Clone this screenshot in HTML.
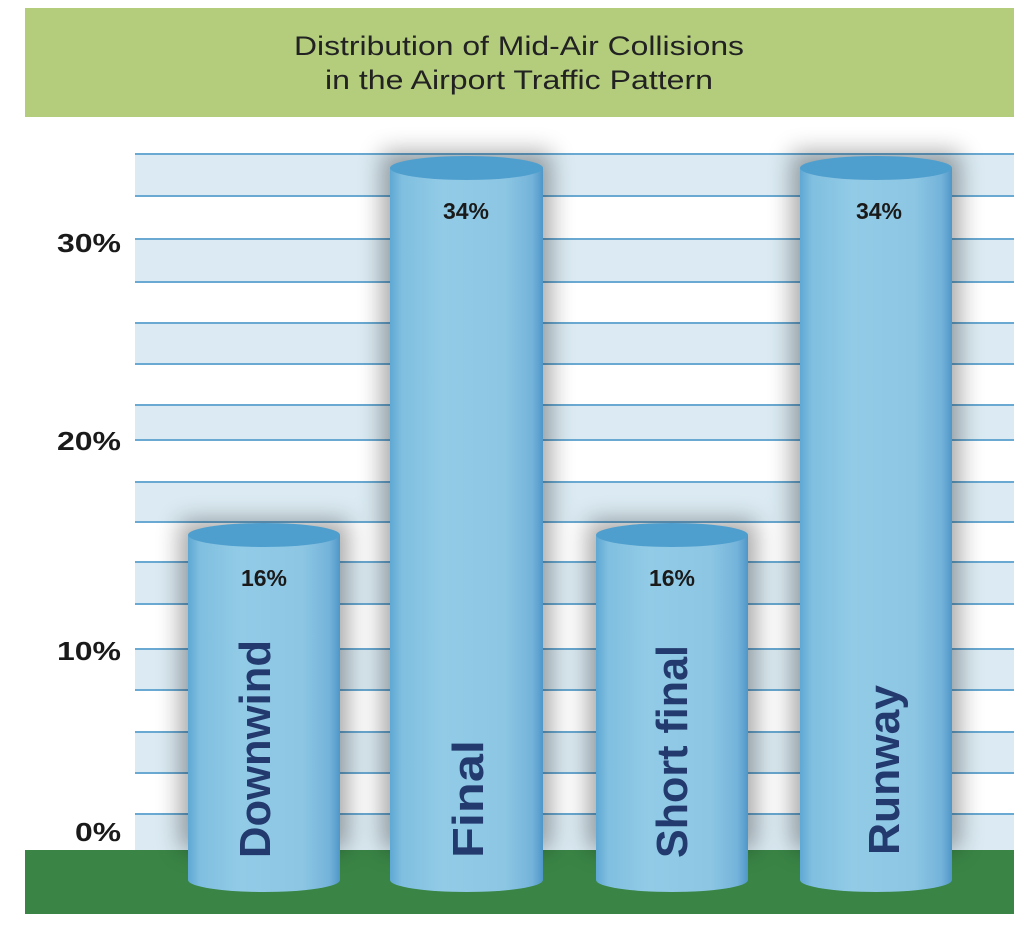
<!DOCTYPE html>
<html><head><style>html,body{margin:0;padding:0;background:#fff}svg{display:block}</style></head><body>
<svg width="1024" height="929" viewBox="0 0 1024 929" xmlns="http://www.w3.org/2000/svg">
<defs>
<linearGradient id="cyl" x1="0" x2="1" y1="0" y2="0">
<stop offset="0" stop-color="#5fa8d4"/><stop offset="0.08" stop-color="#80bfe0"/><stop offset="0.35" stop-color="#92cbe6"/><stop offset="0.75" stop-color="#8cc6e3"/><stop offset="0.93" stop-color="#74b3da"/><stop offset="1" stop-color="#4f97c8"/>
</linearGradient>
<filter id="sh" x="-30%" y="-10%" width="160%" height="120%"><feGaussianBlur stdDeviation="12"/></filter>
</defs>
<rect x="25" y="8" width="989" height="109" fill="#b3cd7d"/>
<text x="519" y="55" font-family="Liberation Sans Narrow, Liberation Sans, sans-serif" font-size="27" fill="#222" text-anchor="middle" textLength="450" lengthAdjust="spacingAndGlyphs">Distribution of Mid-Air Collisions</text>
<text x="519" y="89" font-family="Liberation Sans Narrow, Liberation Sans, sans-serif" font-size="27" fill="#222" text-anchor="middle" textLength="388" lengthAdjust="spacingAndGlyphs">in the Airport Traffic Pattern</text>
<g fill="#dcebf3">
<rect x="135" y="154" width="879" height="42"/><rect x="135" y="239" width="879" height="43"/><rect x="135" y="323" width="879" height="41"/><rect x="135" y="405" width="879" height="35"/><rect x="135" y="482" width="879" height="40"/><rect x="135" y="562" width="879" height="42"/><rect x="135" y="649" width="879" height="41"/><rect x="135" y="732" width="879" height="41"/><rect x="135" y="814" width="879" height="36"/>
</g>
<g stroke="#6aa9d2" stroke-width="2">
<path d="M135 154H1014M135 196H1014M135 239H1014M135 282H1014M135 323H1014M135 364H1014M135 405H1014M135 440H1014M135 482H1014M135 522H1014M135 562H1014M135 604H1014M135 649H1014M135 690H1014M135 732H1014M135 773H1014M135 814H1014"/>
</g>
<rect x="25" y="850" width="989" height="64" fill="#3a8546"/>
<g font-family="Liberation Sans Narrow, Liberation Sans, sans-serif" font-weight="bold" font-size="26" fill="#1a1a1a" text-anchor="end">
<text x="121" y="252" textLength="64" lengthAdjust="spacingAndGlyphs">30%</text><text x="121" y="450" textLength="64" lengthAdjust="spacingAndGlyphs">20%</text><text x="121" y="660" textLength="64" lengthAdjust="spacingAndGlyphs">10%</text><text x="121" y="841" textLength="46" lengthAdjust="spacingAndGlyphs">0%</text>
</g>
<g fill="#000" opacity="0.35" filter="url(#sh)">
<rect x="180" y="520" width="168" height="330"/><rect x="382" y="152" width="169" height="698"/><rect x="588" y="520" width="168" height="330"/><rect x="792" y="152" width="168" height="698"/>
</g>
<g>
<path d="M188 535V880A76 12 0 0 0 340 880V535Z" fill="url(#cyl)"/><ellipse cx="264" cy="535" rx="76" ry="12" fill="#4f9fce"/>
<path d="M390 168V880A76.5 12 0 0 0 543 880V168Z" fill="url(#cyl)"/><ellipse cx="466.5" cy="168" rx="76.5" ry="12" fill="#4f9fce"/>
<path d="M596 535V880A76 12 0 0 0 748 880V535Z" fill="url(#cyl)"/><ellipse cx="672" cy="535" rx="76" ry="12" fill="#4f9fce"/>
<path d="M800 168V880A76 12 0 0 0 952 880V168Z" fill="url(#cyl)"/><ellipse cx="876" cy="168" rx="76" ry="12" fill="#4f9fce"/>
</g>
<g font-family="Liberation Sans, sans-serif" font-weight="bold" font-size="23" fill="#1a1a1a" text-anchor="middle">
<text x="264" y="586">16%</text><text x="466" y="219">34%</text><text x="672" y="586">16%</text><text x="879" y="219">34%</text>
</g>
<g font-family="Liberation Sans, sans-serif" font-weight="bold" font-size="44" fill="#233a6e" text-anchor="start">
<text transform="translate(270,858) rotate(-90)" textLength="218" lengthAdjust="spacingAndGlyphs">Downwind</text>
<text transform="translate(483,858) rotate(-90)" textLength="118" lengthAdjust="spacingAndGlyphs">Final</text>
<text transform="translate(687,858) rotate(-90)" textLength="213" lengthAdjust="spacingAndGlyphs">Short final</text>
<text transform="translate(899,855) rotate(-90)" textLength="170" lengthAdjust="spacingAndGlyphs">Runway</text>
</g>
</svg>
</body></html>
